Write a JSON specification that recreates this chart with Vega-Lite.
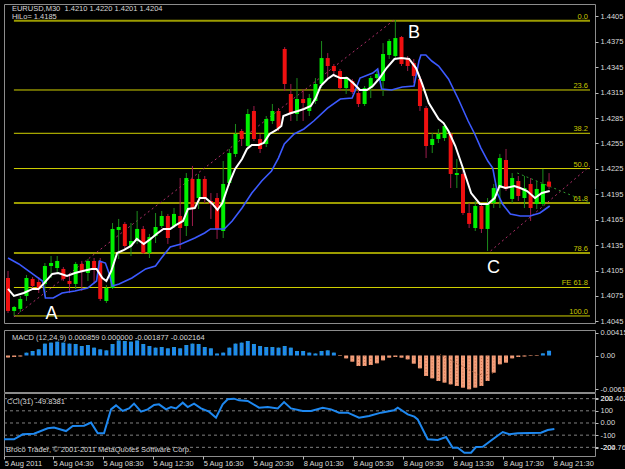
{
  "$schema": "https://vega.github.io/schema/vega-lite/v6.json",
  "background": "#000000",
  "padding": {"left": 3, "top": 3, "right": 31, "bottom": 14},
  "bounds": "flush",
  "spacing": 7,
  "config": {
    "font": "Liberation Sans",
    "view": {"stroke": "#8c8c8c", "strokeWidth": 1},
    "axis": {"labelColor": "#dcdcdc", "labelFont": "Liberation Sans", "labelFontSize": 7.5, "tickColor": "#bdbdbd", "tickSize": 3, "domain": false, "grid": false, "labelPadding": 2, "labelOverlap": false, "labelFlush": false, "labelBound": false},
    "text": {"font": "Liberation Sans", "fontSize": 7.5}
  },
  "datasets": {
    "candles": [
      {"i":0,"o":1.40962,"h":1.41045,"l":1.40549,"c":1.40573},
      {"i":1,"o":1.40573,"h":1.40632,"l":1.40514,"c":1.40620},
      {"i":2,"o":1.40597,"h":1.40750,"l":1.40561,"c":1.40715},
      {"i":3,"o":1.40750,"h":1.40998,"l":1.40691,"c":1.40962},
      {"i":4,"o":1.40951,"h":1.40974,"l":1.40821,"c":1.40868},
      {"i":5,"o":1.40915,"h":1.40974,"l":1.40785,"c":1.40833},
      {"i":6,"o":1.40892,"h":1.41139,"l":1.40750,"c":1.41104},
      {"i":7,"o":1.41104,"h":1.41222,"l":1.40962,"c":1.41139},
      {"i":8,"o":1.41080,"h":1.41222,"l":1.41021,"c":1.41163},
      {"i":9,"o":1.41069,"h":1.41092,"l":1.40927,"c":1.40951},
      {"i":10,"o":1.40927,"h":1.41021,"l":1.40785,"c":1.40892},
      {"i":11,"o":1.40892,"h":1.41151,"l":1.40833,"c":1.41128},
      {"i":12,"o":1.41128,"h":1.41163,"l":1.40809,"c":1.41045},
      {"i":13,"o":1.41021,"h":1.41187,"l":1.40927,"c":1.41163},
      {"i":14,"o":1.41163,"h":1.41198,"l":1.40892,"c":1.41069},
      {"i":15,"o":1.41163,"h":1.41198,"l":1.40691,"c":1.40715},
      {"i":16,"o":1.40691,"h":1.40880,"l":1.40667,"c":1.40844},
      {"i":17,"o":1.40844,"h":1.41611,"l":1.40833,"c":1.41541},
      {"i":18,"o":1.41529,"h":1.41659,"l":1.41187,"c":1.41564},
      {"i":19,"o":1.41600,"h":1.41623,"l":1.41316,"c":1.41340},
      {"i":20,"o":1.41340,"h":1.41611,"l":1.41222,"c":1.41399},
      {"i":21,"o":1.41399,"h":1.41753,"l":1.41364,"c":1.41541},
      {"i":22,"o":1.41541,"h":1.41576,"l":1.41246,"c":1.41257},
      {"i":23,"o":1.41257,"h":1.41482,"l":1.41198,"c":1.41446},
      {"i":24,"o":1.41458,"h":1.41729,"l":1.41375,"c":1.41564},
      {"i":25,"o":1.41576,"h":1.41753,"l":1.41552,"c":1.41694},
      {"i":26,"o":1.41694,"h":1.41718,"l":1.41364,"c":1.41434},
      {"i":27,"o":1.41576,"h":1.41788,"l":1.41552,"c":1.41718},
      {"i":28,"o":1.41694,"h":1.42142,"l":1.41305,"c":1.41552},
      {"i":29,"o":1.41576,"h":1.42201,"l":1.41458,"c":1.42142},
      {"i":30,"o":1.42131,"h":1.42284,"l":1.41576,"c":1.41777},
      {"i":31,"o":1.41906,"h":1.42190,"l":1.41777,"c":1.42131},
      {"i":32,"o":1.42131,"h":1.42166,"l":1.41847,"c":1.41906},
      {"i":33,"o":1.41871,"h":1.41965,"l":1.41659,"c":1.41836},
      {"i":34,"o":1.41906,"h":1.41965,"l":1.41423,"c":1.41541},
      {"i":35,"o":1.41517,"h":1.42343,"l":1.41434,"c":1.42072},
      {"i":36,"o":1.42083,"h":1.42485,"l":1.42048,"c":1.42437},
      {"i":37,"o":1.42426,"h":1.42780,"l":1.42390,"c":1.42662},
      {"i":38,"o":1.42697,"h":1.42721,"l":1.42520,"c":1.42603},
      {"i":39,"o":1.42520,"h":1.42957,"l":1.42496,"c":1.42898},
      {"i":40,"o":1.42933,"h":1.42992,"l":1.42579,"c":1.42603},
      {"i":41,"o":1.42603,"h":1.42662,"l":1.42437,"c":1.42485},
      {"i":42,"o":1.42544,"h":1.42874,"l":1.42508,"c":1.42839},
      {"i":43,"o":1.42815,"h":1.43016,"l":1.42780,"c":1.42933},
      {"i":44,"o":1.42933,"h":1.42968,"l":1.42697,"c":1.42732},
      {"i":45,"o":1.43665,"h":1.43688,"l":1.43169,"c":1.43252},
      {"i":46,"o":1.43134,"h":1.43252,"l":1.42815,"c":1.42898},
      {"i":47,"o":1.42898,"h":1.43322,"l":1.42815,"c":1.43075},
      {"i":48,"o":1.43075,"h":1.43193,"l":1.42815,"c":1.43027},
      {"i":49,"o":1.42933,"h":1.43134,"l":1.42874,"c":1.43086},
      {"i":50,"o":1.43051,"h":1.43322,"l":1.43016,"c":1.43252},
      {"i":51,"o":1.43252,"h":1.43759,"l":1.43204,"c":1.43558},
      {"i":52,"o":1.43558,"h":1.43617,"l":1.43322,"c":1.43464},
      {"i":53,"o":1.43464,"h":1.43488,"l":1.43346,"c":1.43405},
      {"i":54,"o":1.43405,"h":1.43429,"l":1.43169,"c":1.43204},
      {"i":55,"o":1.43204,"h":1.43346,"l":1.43134,"c":1.43311},
      {"i":56,"o":1.43287,"h":1.43311,"l":1.43134,"c":1.43157},
      {"i":57,"o":1.43145,"h":1.43181,"l":1.42980,"c":1.43016},
      {"i":58,"o":1.43016,"h":1.43228,"l":1.42992,"c":1.43204},
      {"i":59,"o":1.43204,"h":1.43346,"l":1.43086,"c":1.43322},
      {"i":60,"o":1.43322,"h":1.43405,"l":1.43287,"c":1.43370},
      {"i":61,"o":1.43287,"h":1.43735,"l":1.43110,"c":1.43606},
      {"i":62,"o":1.43594,"h":1.43783,"l":1.43547,"c":1.43759},
      {"i":63,"o":1.43582,"h":1.44007,"l":1.43558,"c":1.43794},
      {"i":64,"o":1.43806,"h":1.43818,"l":1.43464,"c":1.43488},
      {"i":65,"o":1.43558,"h":1.43582,"l":1.43405,"c":1.43464},
      {"i":66,"o":1.43499,"h":1.43547,"l":1.43263,"c":1.43346},
      {"i":67,"o":1.43311,"h":1.43346,"l":1.42933,"c":1.42992},
      {"i":68,"o":1.42968,"h":1.42992,"l":1.42378,"c":1.42520},
      {"i":69,"o":1.42532,"h":1.42673,"l":1.42437,"c":1.42603},
      {"i":70,"o":1.42603,"h":1.42721,"l":1.42555,"c":1.42662},
      {"i":71,"o":1.42614,"h":1.42791,"l":1.42579,"c":1.42756},
      {"i":72,"o":1.42662,"h":1.42685,"l":1.42024,"c":1.42190},
      {"i":73,"o":1.42178,"h":1.42367,"l":1.42024,"c":1.42201},
      {"i":74,"o":1.42190,"h":1.42225,"l":1.41706,"c":1.41729},
      {"i":75,"o":1.41729,"h":1.41847,"l":1.41552,"c":1.41600},
      {"i":76,"o":1.41552,"h":1.41871,"l":1.41517,"c":1.41812},
      {"i":77,"o":1.41812,"h":1.41836,"l":1.41493,"c":1.41541},
      {"i":78,"o":1.41541,"h":1.41906,"l":1.41281,"c":1.41847},
      {"i":79,"o":1.41847,"h":1.42072,"l":1.41788,"c":1.42024},
      {"i":80,"o":1.42024,"h":1.42426,"l":1.41788,"c":1.42378},
      {"i":81,"o":1.42355,"h":1.42485,"l":1.41989,"c":1.42013},
      {"i":82,"o":1.41895,"h":1.42201,"l":1.41847,"c":1.42142},
      {"i":83,"o":1.42107,"h":1.42166,"l":1.41871,"c":1.41930},
      {"i":84,"o":1.41906,"h":1.42166,"l":1.41788,"c":1.42024},
      {"i":85,"o":1.42072,"h":1.42142,"l":1.41635,"c":1.41788},
      {"i":86,"o":1.41836,"h":1.42107,"l":1.41777,"c":1.42013},
      {"i":87,"o":1.41836,"h":1.42249,"l":1.41812,"c":1.42072},
      {"i":88,"o":1.4210,"h":1.4220,"l":1.4201,"c":1.4204}
    ],
    "white": [
      {"i":0.0,"p":1.40833},{"i":0.96,"p":1.40750},{"i":2.56,"p":1.40785},{"i":4.0,"p":1.40833},{"i":4.96,"p":1.40833},{"i":5.76,"p":1.40892},{"i":7.2,"p":1.41010},{"i":8.16,"p":1.41021},{"i":9.6,"p":1.40986},{"i":10.88,"p":1.41021},{"i":12.16,"p":1.41045},{"i":13.6,"p":1.41069},{"i":14.4,"p":1.41069},{"i":15.35,"p":1.40962},{"i":16.0,"p":1.40927},{"i":16.8,"p":1.41045},{"i":17.75,"p":1.41257},{"i":18.87,"p":1.41293},{"i":20.0,"p":1.41340},{"i":20.95,"p":1.41423},{"i":22.07,"p":1.41364},{"i":23.19,"p":1.41423},{"i":24.15,"p":1.41482},{"i":25.27,"p":1.41541},{"i":26.39,"p":1.41541},{"i":27.35,"p":1.41588},{"i":28.47,"p":1.41635},{"i":29.27,"p":1.41777},{"i":30.39,"p":1.41788},{"i":31.19,"p":1.41906},{"i":32.14,"p":1.41906},{"i":33.26,"p":1.41836},{"i":34.06,"p":1.41765},{"i":34.86,"p":1.41847},{"i":35.98,"p":1.42083},{"i":36.94,"p":1.42249},{"i":38.06,"p":1.42367},{"i":38.86,"p":1.42485},{"i":39.66,"p":1.42532},{"i":40.78,"p":1.42532},{"i":41.58,"p":1.42555},{"i":42.54,"p":1.42662},{"i":43.66,"p":1.42709},{"i":44.46,"p":1.42756},{"i":44.78,"p":1.42874},{"i":46.05,"p":1.42909},{"i":47.17,"p":1.42933},{"i":48.13,"p":1.42957},{"i":49.25,"p":1.42992},{"i":50.05,"p":1.43086},{"i":50.85,"p":1.43228},{"i":51.97,"p":1.43311},{"i":52.93,"p":1.43358},{"i":54.05,"p":1.43322},{"i":55.17,"p":1.43322},{"i":56.13,"p":1.43263},{"i":57.25,"p":1.43181},{"i":58.37,"p":1.43181},{"i":59.33,"p":1.43228},{"i":60.45,"p":1.43322},{"i":61.57,"p":1.43440},{"i":62.85,"p":1.43547},{"i":63.96,"p":1.43558},{"i":65.24,"p":1.43547},{"i":66.36,"p":1.43440},{"i":67.32,"p":1.43263},{"i":68.44,"p":1.43027},{"i":70.04,"p":1.42839},{"i":70.84,"p":1.42791},{"i":71.64,"p":1.42697},{"i":72.76,"p":1.42520},{"i":74.04,"p":1.42249},{"i":75.32,"p":1.41965},{"i":76.76,"p":1.41836},{"i":78.04,"p":1.41836},{"i":79.16,"p":1.41906},{"i":79.95,"p":1.42048},{"i":80.91,"p":1.42024},{"i":82.35,"p":1.42048},{"i":83.31,"p":1.42024},{"i":84.43,"p":1.41989},{"i":85.71,"p":1.41906},{"i":86.83,"p":1.41965},{"i":88.11,"p":1.41989}
    ],
    "blue": [
      {"i":0.0,"p":1.41199},{"i":1.76,"p":1.41128},{"i":4.0,"p":1.41010},{"i":5.6,"p":1.40927},{"i":6.08,"p":1.40726},{"i":7.36,"p":1.40726},{"i":8.8,"p":1.40785},{"i":10.88,"p":1.40809},{"i":12.96,"p":1.40844},{"i":14.4,"p":1.40927},{"i":14.88,"p":1.41163},{"i":15.84,"p":1.41139},{"i":16.48,"p":1.41010},{"i":16.95,"p":1.40868},{"i":18.07,"p":1.40892},{"i":20.15,"p":1.40962},{"i":22.39,"p":1.41069},{"i":23.99,"p":1.41104},{"i":24.95,"p":1.41199},{"i":26.39,"p":1.41328},{"i":28.15,"p":1.41364},{"i":30.39,"p":1.41434},{"i":31.98,"p":1.41493},{"i":32.94,"p":1.41541},{"i":35.18,"p":1.41541},{"i":36.46,"p":1.41635},{"i":38.06,"p":1.41788},{"i":39.66,"p":1.41965},{"i":41.26,"p":1.42107},{"i":42.86,"p":1.42225},{"i":43.98,"p":1.42378},{"i":44.94,"p":1.42544},{"i":46.54,"p":1.42662},{"i":48.13,"p":1.42721},{"i":49.73,"p":1.42815},{"i":51.97,"p":1.42968},{"i":54.05,"p":1.43075},{"i":55.97,"p":1.43086},{"i":56.45,"p":1.43169},{"i":57.25,"p":1.43322},{"i":59.33,"p":1.43381},{"i":60.13,"p":1.43429},{"i":60.77,"p":1.43193},{"i":62.37,"p":1.43181},{"i":64.12,"p":1.43216},{"i":66.04,"p":1.43228},{"i":66.84,"p":1.43523},{"i":67.16,"p":1.43594},{"i":67.96,"p":1.43594},{"i":68.92,"p":1.43523},{"i":70.04,"p":1.43464},{"i":71.64,"p":1.43311},{"i":73.24,"p":1.43075},{"i":74.84,"p":1.42815},{"i":75.91,"p":1.42662},{"i":76.92,"p":1.42496},{"i":78.04,"p":1.42343},{"i":78.84,"p":1.42260},{"i":79.63,"p":1.41954},{"i":80.43,"p":1.41836},{"i":81.71,"p":1.41718},{"i":83.31,"p":1.41694},{"i":84.91,"p":1.41694},{"i":86.51,"p":1.41729},{"i":88.11,"p":1.41812}
    ],
    "macd": [
      {"i":0,"v":-0.00036},{"i":1,"v":-0.00027},{"i":2,"v":-0.00018},{"i":3,"v":0.00051},{"i":4,"v":0.00082},{"i":5,"v":0.00112},{"i":6,"v":0.00215},{"i":7,"v":0.00233},{"i":8,"v":0.00251},{"i":9,"v":0.00233},{"i":10,"v":0.00215},{"i":11,"v":0.00209},{"i":12,"v":0.00172},{"i":13,"v":0.0019},{"i":14,"v":0.00142},{"i":15,"v":0.00112},{"i":16,"v":0.00093},{"i":17,"v":0.00209},{"i":18,"v":0.00272},{"i":19,"v":0.00263},{"i":20,"v":0.00251},{"i":21,"v":0.00272},{"i":22,"v":0.00209},{"i":23,"v":0.00172},{"i":24,"v":0.00142},{"i":25,"v":0.00154},{"i":26,"v":0.0013},{"i":27,"v":0.00154},{"i":28,"v":0.0013},{"i":29,"v":0.0019},{"i":30,"v":0.00215},{"i":31,"v":0.00209},{"i":32,"v":0.00154},{"i":33,"v":0.0013},{"i":34,"v":0.00036},{"i":35,"v":0.00052},{"i":36,"v":0.00142},{"i":37,"v":0.00215},{"i":38,"v":0.00233},{"i":39,"v":0.00263},{"i":40,"v":0.00209},{"i":41,"v":0.00172},{"i":42,"v":0.00154},{"i":43,"v":0.00154},{"i":44,"v":0.00142},{"i":45,"v":0.00172},{"i":46,"v":0.00142},{"i":47,"v":0.00082},{"i":48,"v":0.00082},{"i":49,"v":0.00052},{"i":50,"v":0.00036},{"i":51,"v":0.00082},{"i":52,"v":0.00093},{"i":53,"v":0.00052},{"i":54,"v":-0.00009},{"i":55,"v":-0.00052},{"i":56,"v":-0.00112},{"i":57,"v":-0.0019},{"i":58,"v":-0.0019},{"i":59,"v":-0.00172},{"i":60,"v":-0.00142},{"i":61,"v":-0.00088},{"i":62,"v":-0.00039},{"i":63,"v":-0.00027},{"i":64,"v":-0.00039},{"i":65,"v":-0.0007},{"i":66,"v":-0.00148},{"i":67,"v":-0.00233},{"i":68,"v":-0.00372},{"i":69,"v":-0.00414},{"i":70,"v":-0.00462},{"i":71,"v":-0.00492},{"i":72,"v":-0.00523},{"i":73,"v":-0.00553},{"i":74,"v":-0.00583},{"i":75,"v":-0.006127},{"i":76,"v":-0.00583},{"i":77,"v":-0.00553},{"i":78,"v":-0.00462},{"i":79,"v":-0.00311},{"i":80,"v":-0.0016},{"i":81,"v":-0.0013},{"i":82,"v":-0.00052},{"i":83,"v":-0.00027},{"i":84,"v":-0.00018},{"i":85,"v":-0.00009},{"i":86,"v":-0.00009},{"i":87,"v":0.00039},{"i":88,"v":0.000859}
    ],
    "signal": [
      {"i":70.3,"v":0.00022},{"i":72.2,"v":-0.001},{"i":74.3,"v":-0.00221},{"i":76.4,"v":-0.00341},{"i":78.0,"v":-0.00354},{"i":79.1,"v":-0.00312}
    ],
    "cci": [
      {"i":0,"v":-134},{"i":1.76,"v":-134},{"i":3.15,"v":-93},{"i":4.96,"v":-88},{"i":7.15,"v":-44},{"i":8.16,"v":-38},{"i":10.08,"v":-66},{"i":11.15,"v":-25},{"i":12.96,"v":-22},{"i":14.08,"v":3},{"i":15.15,"v":-85},{"i":16.15,"v":-85},{"i":17.27,"v":112},{"i":18.07,"v":145},{"i":19.14,"v":99},{"i":20.15,"v":120},{"i":20.95,"v":159},{"i":22.07,"v":93},{"i":23.14,"v":112},{"i":24.15,"v":148},{"i":24.95,"v":153},{"i":26.07,"v":112},{"i":26.87,"v":131},{"i":27.67,"v":120},{"i":28.74,"v":167},{"i":29.54,"v":131},{"i":30.55,"v":159},{"i":31.66,"v":120},{"i":32.94,"v":93},{"i":34.06,"v":44},{"i":35.13,"v":153},{"i":35.93,"v":195},{"i":36.94,"v":200},{"i":37.74,"v":186},{"i":39.13,"v":181},{"i":40.94,"v":126},{"i":42.33,"v":131},{"i":43.93,"v":120},{"i":44.94,"v":172},{"i":46.05,"v":120},{"i":47.93,"v":99},{"i":49.25,"v":99},{"i":51.12,"v":126},{"i":52.45,"v":112},{"i":53.73,"v":85},{"i":55.12,"v":85},{"i":56.93,"v":44},{"i":58.53,"v":58},{"i":60.45,"v":85},{"i":62.52,"v":104},{"i":63.12,"v":126},{"i":64.72,"v":71},{"i":65.77,"v":52},{"i":66.31,"v":30},{"i":67.91,"v":-134},{"i":69.51,"v":-140},{"i":70.84,"v":-115},{"i":71.91,"v":-203},{"i":72.71,"v":-203},{"i":73.77,"v":-244},{"i":74.84,"v":-244},{"i":75.64,"v":-197},{"i":76.71,"v":-195},{"i":78.31,"v":-134},{"i":79.91,"v":-74},{"i":80.96,"v":-93},{"i":82.31,"v":-85},{"i":86.03,"v":-80},{"i":87.1,"v":-58},{"i":88.16,"v":-50}
    ],
    "fib": [
      {"lv":"0.0","p":1.43999},{"lv":"23.6","p":1.43181},{"lv":"38.2","p":1.42670},{"lv":"50.0","p":1.42254},{"lv":"61.8","p":1.41847},{"lv":"78.6","p":1.41257},{"lv":"FE 61.8","p":1.40850},{"lv":"100.0","p":1.40514}
    ],
    "trend": [
      {"n":"AB","i":0.96,"p":1.40502,"i2":63.0,"p2":1.44019},
      {"n":"C","i":78.5,"p":1.41281,"i2":94.66,"p2":1.42284},
      {"n":"G","i":82.83,"p":1.42201,"i2":94.66,"p2":1.41847}
    ]
  },
  "vconcat": [
    {
      "width": 591,
      "height": 319,
      "resolve": {"axis": {"x": "independent", "y": "independent"}},
      "layer": [
        {
          "data": {"name": "fib"},
          "transform": [{"filter": {"field": "lv", "oneOf": ["0.0", "61.8", "78.6"]}}],
          "mark": {"type": "rule", "color": "#9c9c00", "strokeWidth": 2, "clip": true},
          "encoding": {
            "x": {"datum": 0.96, "type": "quantitative", "scale": {"domain": [0.16, 94.66], "nice": false, "zero": false}, "axis": null},
            "x2": {"datum": 94.66},
            "y": {"field": "p", "type": "quantitative", "scale": {"domain": [1.40431, 1.44196], "nice": false, "zero": false}, "axis": null}
          }
        },
        {
          "data": {"name": "fib"},
          "transform": [{"filter": {"not": {"field": "lv", "oneOf": ["0.0", "61.8", "78.6"]}}}],
          "mark": {"type": "rule", "color": "#d2d200", "strokeWidth": 1, "clip": true},
          "encoding": {
            "x": {"datum": 0.96, "type": "quantitative", "scale": {"domain": [0.16, 94.66], "nice": false, "zero": false}, "axis": null},
            "x2": {"datum": 94.66},
            "y": {"field": "p", "type": "quantitative", "scale": {"domain": [1.40431, 1.44196], "nice": false, "zero": false}, "axis": null}
          }
        },
        {
          "mark": {"type": "rule", "color": "#6a6a6a", "strokeWidth": 1, "clip": true},
          "encoding": {
            "y": {"datum": 1.4204, "type": "quantitative", "scale": {"domain": [1.40431, 1.44196], "nice": false, "zero": false}, "axis": null}
          }
        },
        {
          "mark": {"type": "rule", "color": "#24a024", "strokeWidth": 2, "clip": true},
          "encoding": {
            "x": {"datum": 85.07, "type": "quantitative", "scale": {"domain": [0.16, 94.66], "nice": false, "zero": false}, "axis": null},
            "x2": {"datum": 94.66},
            "y": {"datum": 1.42544, "type": "quantitative", "scale": {"domain": [1.40431, 1.44196], "nice": false, "zero": false}, "axis": null}
          }
        },
        {
          "mark": {"type": "rule", "color": "#ff2828", "strokeWidth": 2, "clip": true},
          "encoding": {
            "x": {"datum": 85.07, "type": "quantitative", "scale": {"domain": [0.16, 94.66], "nice": false, "zero": false}, "axis": null},
            "x2": {"datum": 94.66},
            "y": {"datum": 1.40777, "type": "quantitative", "scale": {"domain": [1.40431, 1.44196], "nice": false, "zero": false}, "axis": null}
          }
        },
        {
          "data": {"name": "trend"},
          "transform": [{"filter": {"field": "n", "oneOf": ["AB", "C"]}}],
          "mark": {"type": "rule", "color": "#b0306a", "strokeWidth": 1, "strokeDash": [2, 3], "clip": true},
          "encoding": {
            "x": {"field": "i", "type": "quantitative", "scale": {"domain": [0.16, 94.66], "nice": false, "zero": false}, "axis": null},
            "x2": {"field": "i2"},
            "y": {"field": "p", "type": "quantitative", "scale": {"domain": [1.40431, 1.44196], "nice": false, "zero": false}, "axis": null},
            "y2": {"field": "p2"}
          }
        },
        {
          "data": {"name": "trend"},
          "transform": [{"filter": {"field": "n", "equal": "G"}}],
          "mark": {"type": "rule", "color": "#2f9a2f", "strokeWidth": 1, "strokeDash": [2, 3], "clip": true},
          "encoding": {
            "x": {"field": "i", "type": "quantitative", "scale": {"domain": [0.16, 94.66], "nice": false, "zero": false}, "axis": null},
            "x2": {"field": "i2"},
            "y": {"field": "p", "type": "quantitative", "scale": {"domain": [1.40431, 1.44196], "nice": false, "zero": false}, "axis": null},
            "y2": {"field": "p2"}
          }
        },
        {
          "data": {"name": "candles"},
          "mark": {"type": "rule", "strokeWidth": 1, "clip": true},
          "encoding": {
            "x": {"field": "i", "type": "quantitative", "scale": {"domain": [0.16, 94.66], "nice": false, "zero": false}, "axis": null},
            "y": {"field": "l", "type": "quantitative", "scale": {"domain": [1.40431, 1.44196], "nice": false, "zero": false},
                  "axis": {"orient": "right", "title": null, "values": [1.4045, 1.4075, 1.4105, 1.4135, 1.4165, 1.4195, 1.4225, 1.4255, 1.4285, 1.4315, 1.4345, 1.4375, 1.4405], "format": ".4f"}},
            "y2": {"field": "h"},
            "color": {"condition": {"test": "datum.c >= datum.o", "value": "#1c8c1c"}, "value": "#9c1c4c"}
          }
        },
        {
          "data": {"name": "candles"},
          "mark": {"type": "bar", "width": 4, "clip": true},
          "encoding": {
            "x": {"field": "i", "type": "quantitative", "scale": {"domain": [0.16, 94.66], "nice": false, "zero": false}, "axis": null},
            "y": {"field": "o", "type": "quantitative", "scale": {"domain": [1.40431, 1.44196], "nice": false, "zero": false}, "axis": null},
            "y2": {"field": "c"},
            "color": {"condition": {"test": "datum.c >= datum.o", "value": "#00f000"}, "value": "#f01010"}
          }
        },
        {
          "data": {"name": "blue"},
          "mark": {"type": "line", "color": "#3c5aff", "strokeWidth": 1.6, "clip": true},
          "encoding": {
            "x": {"field": "i", "type": "quantitative", "scale": {"domain": [0.16, 94.66], "nice": false, "zero": false}, "axis": null},
            "y": {"field": "p", "type": "quantitative", "scale": {"domain": [1.40431, 1.44196], "nice": false, "zero": false}, "axis": null}
          }
        },
        {
          "data": {"name": "white"},
          "mark": {"type": "line", "color": "#ffffff", "strokeWidth": 2, "clip": true},
          "encoding": {
            "x": {"field": "i", "type": "quantitative", "scale": {"domain": [0.16, 94.66], "nice": false, "zero": false}, "axis": null},
            "y": {"field": "p", "type": "quantitative", "scale": {"domain": [1.40431, 1.44196], "nice": false, "zero": false}, "axis": null}
          }
        },
        {
          "data": {"name": "fib"},
          "mark": {"type": "text", "align": "right", "baseline": "alphabetic", "dy": -2, "color": "#c8c800", "fontSize": 7.5},
          "encoding": {
            "x": {"datum": 94.34, "type": "quantitative", "scale": {"domain": [0.16, 94.66], "nice": false, "zero": false}, "axis": null},
            "y": {"field": "p", "type": "quantitative", "scale": {"domain": [1.40431, 1.44196], "nice": false, "zero": false}, "axis": null},
            "text": {"field": "lv"}
          }
        },
        {
          "data": {"values": [{"t": "A", "i": 7.07, "p": 1.40475}, {"t": "B", "i": 66.04, "p": 1.43798}, {"t": "C", "i": 78.96, "p": 1.41025}]},
          "mark": {"type": "text", "align": "center", "baseline": "alphabetic", "color": "#ffffff", "fontSize": 18},
          "encoding": {
            "x": {"field": "i", "type": "quantitative", "scale": {"domain": [0.16, 94.66], "nice": false, "zero": false}, "axis": null},
            "y": {"field": "p", "type": "quantitative", "scale": {"domain": [1.40431, 1.44196], "nice": false, "zero": false}, "axis": null},
            "text": {"field": "t"}
          }
        },
        {
          "data": {"values": [{"t": "EURUSD,M30\u00a0 1.4210 1.4220 1.4201 1.4204", "i": 0.64, "p": 1.44142}, {"t": "HiLo= 1.4185", "i": 0.64, "p": 1.44048}]},
          "mark": {"type": "text", "align": "left", "baseline": "middle", "color": "#d8d8d8", "fontSize": 7.5},
          "encoding": {
            "x": {"field": "i", "type": "quantitative", "scale": {"domain": [0.16, 94.66], "nice": false, "zero": false}, "axis": null},
            "y": {"field": "p", "type": "quantitative", "scale": {"domain": [1.40431, 1.44196], "nice": false, "zero": false}, "axis": null},
            "text": {"field": "t"}
          }
        },
        {
          "mark": {"type": "rect", "fill": "#f4f4f4", "stroke": "#8c8c8c", "strokeWidth": 1, "clip": false},
          "encoding": {
            "x": {"datum": 94.82, "type": "quantitative", "scale": {"domain": [0.16, 94.66], "nice": false, "zero": false}, "axis": null},
            "x2": {"datum": 98.9},
            "y": {"datum": 1.42087, "type": "quantitative", "scale": {"domain": [1.40431, 1.44196], "nice": false, "zero": false}, "axis": null},
            "y2": {"datum": 1.41969}
          }
        },
        {
          "data": {"values": [{"t": "1.4204", "i": 96.86, "p": 1.42028}]},
          "mark": {"type": "text", "align": "center", "baseline": "middle", "color": "#000000", "fontSize": 7.5, "clip": false},
          "encoding": {
            "x": {"field": "i", "type": "quantitative", "scale": {"domain": [0.16, 94.66], "nice": false, "zero": false}, "axis": null},
            "y": {"field": "p", "type": "quantitative", "scale": {"domain": [1.40431, 1.44196], "nice": false, "zero": false}, "axis": null},
            "text": {"field": "t"}
          }
        }
      ]
    },
    {
      "bounds": "flush",
      "spacing": 1,
      "vconcat": [
        {
          "width": 591,
          "height": 62,
          "resolve": {"axis": {"x": "independent", "y": "independent"}},
          "layer": [
            {
              "data": {"name": "macd"},
              "mark": {"type": "bar", "width": 4, "clip": true},
              "encoding": {
                "x": {"field": "i", "type": "quantitative", "scale": {"domain": [0.16, 94.66], "nice": false, "zero": false}, "axis": null},
                "y": {"field": "v", "type": "quantitative", "scale": {"domain": [-0.0066175, 0.0046232], "nice": false, "zero": false},
                      "axis": {"orient": "right", "title": null, "values": [-0.006127, 0, 0.00415], "labelExpr": "datum.value < -0.005 ? '-0.006127' : (datum.value > 0.003 ? '0.004150' : '0.00')"}},
                "y2": {"datum": 0},
                "color": {"condition": {"test": "datum.v > 0", "value": "#1e88f0"}, "value": "#f5a07c"}
              }
            },
            {
              "data": {"name": "macd"},
              "mark": {"type": "rule", "strokeWidth": 1, "strokeDash": [1, 2], "clip": true},
              "encoding": {
                "x": {"field": "i", "type": "quantitative", "scale": {"domain": [0.16, 94.66], "nice": false, "zero": false}, "axis": null},
                "y": {"field": "v", "type": "quantitative", "scale": {"domain": [-0.0066175, 0.0046232], "nice": false, "zero": false}, "axis": null},
                "y2": {"datum": 0},
                "color": {"condition": {"test": "datum.v > 0", "value": "#38b08a"}, "value": "#c8704c"}
              }
            },
            {
              "data": {"name": "signal"},
              "mark": {"type": "line", "color": "#8a4a2a", "strokeWidth": 1, "strokeDash": [1, 2], "clip": true},
              "encoding": {
                "x": {"field": "i", "type": "quantitative", "scale": {"domain": [0.16, 94.66], "nice": false, "zero": false}, "axis": null},
                "y": {"field": "v", "type": "quantitative", "scale": {"domain": [-0.0066175, 0.0046232], "nice": false, "zero": false}, "axis": null}
              }
            },
            {
              "mark": {"type": "rule", "color": "#e6e6e6", "strokeWidth": 2, "clip": true},
              "encoding": {
                "x": {"datum": 0.96, "type": "quantitative", "scale": {"domain": [0.16, 94.66], "nice": false, "zero": false}, "axis": null},
                "x2": {"datum": 72.92},
                "y": {"datum": -0.00118, "type": "quantitative", "scale": {"domain": [-0.0066175, 0.0046232], "nice": false, "zero": false}, "axis": null},
                "y2": {"datum": -0.00571}
              }
            },
            {
              "data": {"values": [{"t": "MACD (12,24,9) 0.000859 0.000000 -0.001877 -0.002164", "i": 0.64, "v": 0.00317}]},
              "mark": {"type": "text", "align": "left", "baseline": "middle", "color": "#d8d8d8", "fontSize": 7.5},
              "encoding": {
                "x": {"field": "i", "type": "quantitative", "scale": {"domain": [0.16, 94.66], "nice": false, "zero": false}, "axis": null},
                "y": {"field": "v", "type": "quantitative", "scale": {"domain": [-0.0066175, 0.0046232], "nice": false, "zero": false}, "axis": null},
                "text": {"field": "t"}
              }
            }
          ]
        },
        {
          "width": 591,
          "height": 63,
          "resolve": {"axis": {"x": "independent", "y": "independent"}},
          "layer": [
            {
              "data": {"values": [{"v": 200}, {"v": 100}, {"v": 0}, {"v": -100}, {"v": -200}]},
              "mark": {"type": "rule", "color": "#808080", "strokeWidth": 1, "strokeDash": [3, 3], "clip": true},
              "encoding": {
                "y": {"field": "v", "type": "quantitative", "scale": {"domain": [-271.2, 246.5], "nice": false, "zero": false}, "axis": null}
              }
            },
            {
              "data": {"name": "cci"},
              "mark": {"type": "line", "color": "#1e88f0", "strokeWidth": 2, "clip": true},
              "encoding": {
                "x": {"field": "i", "type": "quantitative", "scale": {"domain": [0.16, 94.66], "nice": false, "zero": false},
                      "axis": {"orient": "bottom", "title": null, "values": [0.2, 8, 16, 24, 32, 40, 48, 56, 64, 72, 80, 88], "labelAlign": "left", "labelBaseline": "top", "labelPadding": 0, "tickSize": 3,
                               "labelExpr": "['5 Aug 2011','5 Aug 04:30','5 Aug 08:30','5 Aug 12:30','5 Aug 16:30','5 Aug 20:30','8 Aug 01:30','8 Aug 05:30','8 Aug 09:30','8 Aug 13:30','8 Aug 17:30','8 Aug 21:30'][round(datum.value / 8)]"}},
                "y": {"field": "v", "type": "quantitative", "scale": {"domain": [-271.2, 246.5], "nice": false, "zero": false},
                      "axis": {"orient": "right", "title": null, "values": [-204.764, -200, -100, 0, 100, 200, 202.4622], "labelExpr": "datum.value == 202.4622 ? '202.4622' : (datum.value == -204.764 ? '-204.764' : (datum.value == 0 ? '0.00' : '' + datum.value))"}}
              }
            },
            {
              "data": {"values": [{"t": "CCI(31) -49.8381", "i": 0.64, "v": 172.6}, {"t": "Broco Trader, © 2001-2011 MetaQuotes Software Corp.", "i": 0.48, "v": -221.9}]},
              "mark": {"type": "text", "align": "left", "baseline": "middle", "color": "#d8d8d8", "fontSize": 7.5},
              "encoding": {
                "x": {"field": "i", "type": "quantitative", "scale": {"domain": [0.16, 94.66], "nice": false, "zero": false}, "axis": null},
                "y": {"field": "v", "type": "quantitative", "scale": {"domain": [-271.2, 246.5], "nice": false, "zero": false}, "axis": null},
                "text": {"field": "t"}
              }
            }
          ]
        }
      ]
    }
  ]
}
